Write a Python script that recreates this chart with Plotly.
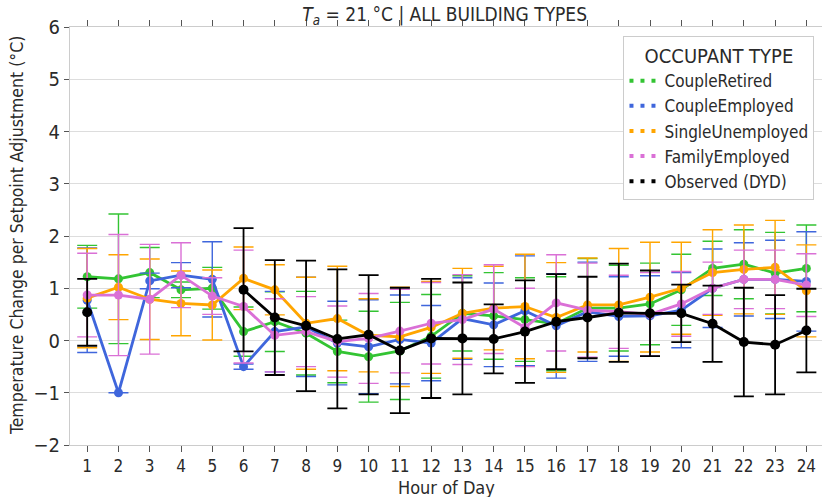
import plotly.graph_objects as go

hours = list(range(1, 25))
tick_labels = [str(h) for h in hours]

series_names = ["CoupleRetired", "CoupleEmployed", "SingleUnemployed", "FamilyEmployed", "Observed (DYD)"]

couple_retired = [1.22, 1.18, 1.30, 0.97, 1.00, 0.17, 0.36, 0.14, -0.21, -0.31, -0.20, 0.08,
                  0.52, 0.47, 0.40, 0.32, 0.62, 0.62, 0.70, 0.97, 1.38, 1.46, 1.29, 1.38]
couple_retired_err = [0.60, 1.24, 0.48, 0.15, 0.40, 0.47, 0.57, 0.80, 0.60, 0.87, 0.93, 0.80,
                      0.72, 0.83, 0.80, 0.90, 0.95, 0.82, 0.78, 0.68, 0.52, 0.66, 0.78, 0.83]

couple_employed = [0.77, -1.00, 1.14, 1.25, 1.17, -0.50, 0.17, 0.26, -0.05, -0.12, 0.02, -0.05,
                   0.42, 0.30, 0.57, 0.28, 0.55, 0.46, 0.47, 0.58, 1.00, 1.17, 1.17, 1.13]
couple_employed_err = [1.00, 0.00, 0.15, 0.24, 0.72, 0.05, 0.77, 0.95, 0.80, 0.90, 0.85, 0.72,
                       0.78, 0.80, 1.05, 1.00, 0.95, 0.76, 0.77, 0.72, 0.75, 0.70, 0.75, 0.95]

single_unemployed = [0.81, 1.02, 0.79, 0.71, 0.68, 1.19, 0.97, 0.33, 0.42, 0.10, 0.07, 0.25,
                     0.52, 0.62, 0.65, 0.44, 0.68, 0.68, 0.83, 1.00, 1.30, 1.36, 1.40, 0.95]
single_unemployed_err = [0.95, 0.62, 0.77, 0.62, 0.67, 0.60, 0.48, 0.88, 1.00, 0.70, 0.95, 0.88,
                         0.86, 0.80, 1.00, 1.05, 0.90, 1.08, 1.05, 0.88, 0.82, 0.85, 0.90, 0.88]

family_employed = [0.87, 0.87, 0.79, 1.25, 0.85, 0.65, 0.10, 0.17, -0.02, 0.04, 0.18, 0.33,
                   0.40, 0.60, 0.25, 0.72, 0.58, 0.55, 0.50, 0.70, 1.00, 1.17, 1.17, 1.06]
family_employed_err = [0.80, 1.16, 1.05, 0.62, 0.35, 1.08, 0.70, 0.67, 0.68, 0.86, 0.80, 0.78,
                       0.86, 0.85, 0.75, 0.92, 0.90, 0.70, 0.80, 0.62, 0.50, 0.56, 0.56, 0.60]

observed = [0.54, None, None, None, None, 0.97, 0.44, 0.28, 0.03, 0.11, -0.19, 0.04,
            0.04, 0.03, 0.17, 0.36, 0.44, 0.53, 0.52, 0.52, 0.32, -0.03, -0.08, 0.19]
observed_err = [0.64, 0, 0, 0, 0, 1.18, 1.10, 1.25, 1.33, 1.14, 1.20, 1.14,
                1.07, 0.66, 0.98, 0.91, 0.78, 0.94, 0.82, 0.55, 0.73, 1.04, 0.95, 0.80]

y_ticks = list(range(-2, 7))
y_tick_labels = ["\u22122", "\u22121", "0", "1", "2", "3", "4", "5", "6"]

colors = ["#33c433", "#3f66dc", "#ffa500", "#da70d6", "#000000"]
values = [couple_retired, couple_employed, single_unemployed, family_employed, observed]
errors = [couple_retired_err, couple_employed_err, single_unemployed_err, family_employed_err, observed_err]

FONT = "DejaVu Sans Condensed, Liberation Sans Narrow, Liberation Sans, Arial, sans-serif"
TXT = "#2a2a2a"

fig = go.Figure()

for name, col, vals, errs in zip(series_names, colors, values, errors):
    is_obs = name.startswith("Observed")
    fig.add_trace(go.Scatter(
        x=hours, y=vals, mode="lines+markers", name=name, showlegend=False,
        line=dict(color=col, width=2.8),
        marker=dict(color=col, size=10 if is_obs else 9),
        connectgaps=False,
        error_y=dict(type="data", array=errs, visible=True, color=col,
                     thickness=1.8 if is_obs else 1.4, width=10),
    ))

# legend entries (dotted symbols)
for name, col in zip(series_names, colors):
    fig.add_trace(go.Scatter(
        x=[None], y=[None], mode="lines", name=name, showlegend=True,
        line=dict(color=col, width=4, dash="4px,7px"),
    ))

fig.update_layout(
    width=822, height=497,
    margin=dict(l=70, r=0, t=27, b=52, autoexpand=False),
    paper_bgcolor="white", plot_bgcolor="white",
    font=dict(family=FONT, size=16, color=TXT),
    title=dict(text="<i>T<sub>a</sub></i> = 21 °C | ALL BUILDING TYPES",
               x=0.541, xanchor="center", y=0.972, yanchor="middle",
               font=dict(family=FONT, size=19, color=TXT)),
    legend=dict(
        x=0.99, xanchor="right", y=0.978, yanchor="top",
        bgcolor="white", bordercolor="#cccccc", borderwidth=1,
        title=dict(text="OCCUPANT TYPE", side="top center", font=dict(size=20)),
        font=dict(size=17), itemwidth=30, tracegroupgap=0,
    ),
    xaxis=dict(
        automargin=False,
        range=[0.45, 24.5], tickmode="array", tickvals=hours, ticktext=tick_labels,
        showgrid=False, zeroline=False,
        ticks="outside", ticklen=6, tickcolor="#555555", tickwidth=1,
        showline=True, linecolor="#cccccc", mirror="ticks",
        tickfont=dict(size=17),
    ),
    yaxis=dict(
        automargin=False,
        range=[-2, 6], tickmode="array", tickvals=y_ticks, ticktext=y_tick_labels,
        showgrid=True, gridcolor="#dddddd", gridwidth=1, zeroline=False,
        ticks="outside", ticklen=5, tickcolor="#555555",
        showline=True, linecolor="#cccccc",
        tickfont=dict(size=20),
    ),
    annotations=[
        dict(text="Hour of Day", xref="paper", yref="paper",
             x=0.5, y=-(487 - 445) / 418, xanchor="center", yanchor="middle",
             showarrow=False, font=dict(size=18, color=TXT)),
        dict(text="Temperature Change per Setpoint Adjustment (°C)", xref="paper", yref="paper",
             x=-(70 - 17) / 752, y=0.5, xanchor="center", yanchor="middle", textangle=-90,
             showarrow=False, font=dict(size=17.5, color=TXT)),
    ],
)

fig.write_html("out.html", config={"displayModeBar": False},
               post_script="document.body.style.margin='0';document.body.style.padding='0';")
